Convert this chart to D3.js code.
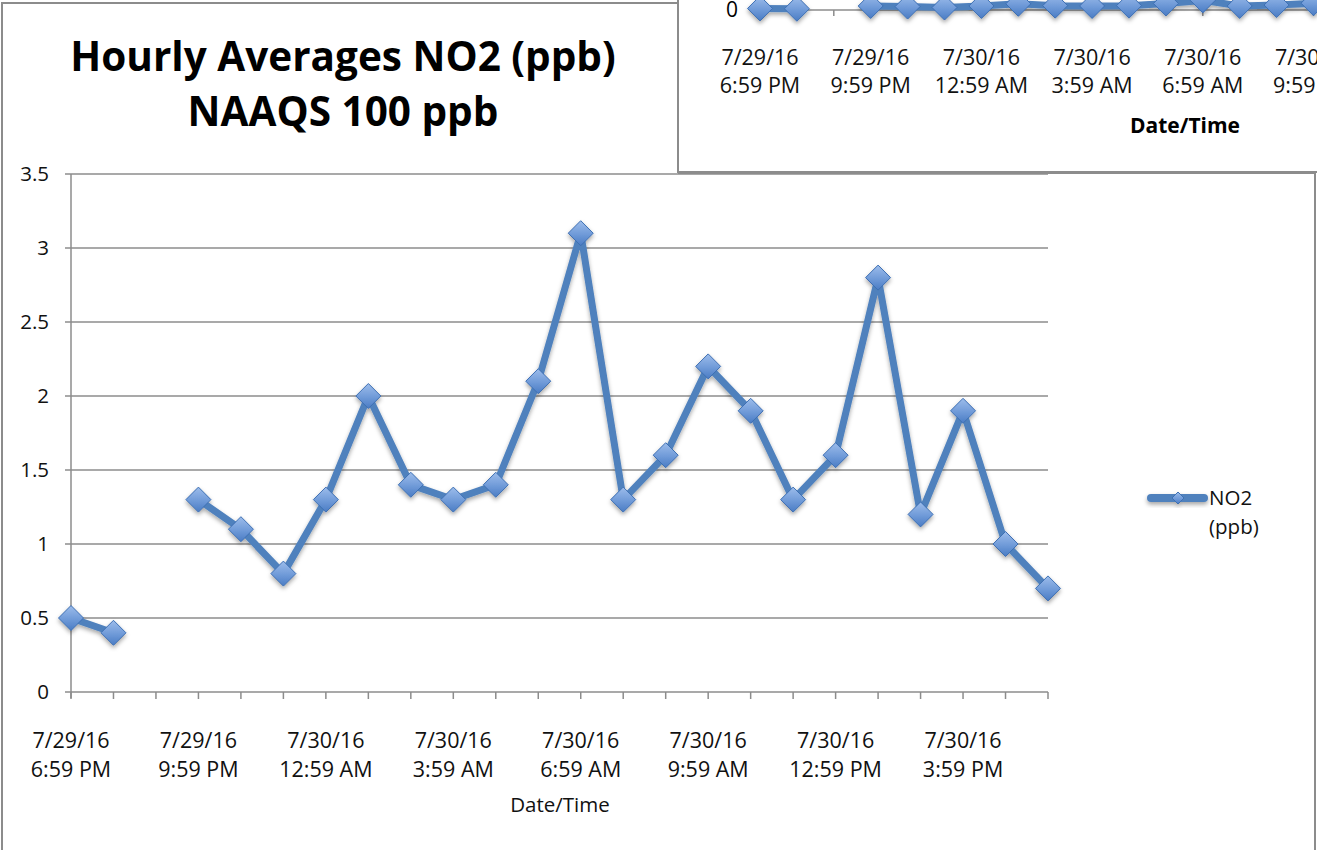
<!DOCTYPE html>
<html><head><meta charset="utf-8">
<script src="https://cdn.jsdelivr.net/npm/d3@7"></script>
<style>
body{margin:0;background:#fff;overflow:hidden;}
svg{display:block;font-family:"Open Sans",sans-serif;}
</style>
</head><body>
<svg id="c" width="1317" height="850"></svg>
<script>
// ---------- data ----------
const categories = [
  "7/29/16 6:59 PM","7/29/16 7:59 PM","7/29/16 8:59 PM","7/29/16 9:59 PM",
  "7/29/16 10:59 PM","7/29/16 11:59 PM","7/30/16 12:59 AM","7/30/16 1:59 AM",
  "7/30/16 2:59 AM","7/30/16 3:59 AM","7/30/16 4:59 AM","7/30/16 5:59 AM",
  "7/30/16 6:59 AM","7/30/16 7:59 AM","7/30/16 8:59 AM","7/30/16 9:59 AM",
  "7/30/16 10:59 AM","7/30/16 11:59 AM","7/30/16 12:59 PM","7/30/16 1:59 PM",
  "7/30/16 2:59 PM","7/30/16 3:59 PM","7/30/16 4:59 PM","7/30/16 5:59 PM"
];
const no2 = [0.5,0.4,null,1.3,1.1,0.8,1.3,2.0,1.4,1.3,1.4,2.1,3.1,1.3,1.6,2.2,1.9,1.3,1.6,2.8,1.2,1.9,1.0,0.7];
const yTicks = [0,0.5,1,1.5,2,2.5,3,3.5];
const topYTicks = [0];
const labelEvery = 3;
const titleLines = ["Hourly Averages NO2 (ppb)","NAAQS 100 ppb"];
const seriesName = ["NO2","(ppb)"];
const xTitle = "Date/Time";

// ---------- setup ----------
const svg = d3.select("#c");
const blue = "#4f81bd";
const grid = "#8c8c8c";
const defs = svg.append("defs");
const grad = defs.append("linearGradient").attr("id","mk").attr("x1",0).attr("y1",0).attr("x2",0).attr("y2",1);
grad.append("stop").attr("offset","0%").attr("stop-color","#9dbdeb");
grad.append("stop").attr("offset","55%").attr("stop-color","#6f9ad8");
grad.append("stop").attr("offset","100%").attr("stop-color","#4a7cc4");
const sh = defs.append("filter").attr("id","sh").attr("x","-30%").attr("y","-30%").attr("width","160%").attr("height","160%");
sh.append("feDropShadow").attr("dx",0).attr("dy",2.5).attr("stdDeviation",2).attr("flood-color","#000").attr("flood-opacity",0.35);

const splitLabel = s => { const i = s.indexOf(" "); return [s.slice(0,i), s.slice(i+1)]; };
const diamond = (g, x, y, r) => g.append("path")
  .attr("d", `M${x},${y-r}L${x+r},${y}L${x},${y+r}L${x-r},${y}Z`)
  .attr("fill","url(#mk)").attr("stroke","#3d6fb3").attr("stroke-width",1);

function drawSeries(g, x, y, r){
  const line = d3.line().defined(d=>d!=null).x((d,i)=>x(categories[i])).y(d=>y(d));
  const sg = g.append("g").attr("filter","url(#sh)");
  sg.append("path").datum(no2).attr("d",line).attr("fill","none")
    .attr("stroke",blue).attr("stroke-width",7).attr("stroke-linejoin","miter");
  no2.forEach((d,i)=>{ if(d!=null) diamond(sg, x(categories[i]), y(d), r); });
}

// ---------- top-right partial chart (behind) ----------
const topG = svg.append("g");
topG.append("rect").attr("x",678).attr("y",-5).attr("width",700).attr("height",177)
  .attr("fill","#fff").attr("stroke",grid).attr("stroke-width",2);
const xt = d3.scalePoint().domain(categories).range([760, 760+23*36.9]);
const yt = d3.scaleLinear().domain([0,100]).range([10,-300]);
topG.append("line").attr("x1",760).attr("x2",1317).attr("y1",yt(0)).attr("y2",yt(0)).attr("stroke",grid).attr("stroke-width",1.5);
topG.selectAll(".tt").data(categories).join("line")
  .attr("x1",d=>xt(d)).attr("x2",d=>xt(d)).attr("y1",yt(0)).attr("y2",yt(0)+6)
  .attr("stroke",grid).attr("stroke-width",1.5);
topG.selectAll(".tyl").data(topYTicks).join("text")
  .attr("x",738).attr("y",d=>yt(d)).attr("dy","0.35em").attr("text-anchor","end")
  .attr("font-size",21).text(d=>d);
drawSeries(topG, xt, yt, 12.5);
categories.forEach((c,i)=>{
  if(i%labelEvery) return;
  const [a,b] = splitLabel(c);
  const t = topG.append("text").attr("text-anchor","middle").attr("font-size",21.5).attr("fill","#111");
  t.append("tspan").attr("x",xt(c)).attr("y",65).text(a);
  t.append("tspan").attr("x",xt(c)).attr("y",93).text(b);
});
topG.append("text").attr("x",1185).attr("y",133).attr("text-anchor","middle")
  .attr("font-size",21).attr("font-weight","bold").text(xTitle);

// ---------- title box ----------
const tg = svg.append("g");
tg.append("rect").attr("x",2).attr("y",3).attr("width",676).attr("height",169)
  .attr("fill","#fff");
tg.append("path").attr("d","M2,172V3H678V172").attr("fill","none").attr("stroke",grid).attr("stroke-width",2);
titleLines.forEach((s,i)=>{
  tg.append("text").attr("x",343).attr("y",[71,126][i]).attr("text-anchor","middle")
    .attr("font-size",40.5).attr("font-weight","bold").attr("fill","#000").text(s);
});

// ---------- main chart ----------
const mainG = svg.append("g");
mainG.append("rect").attr("x",2).attr("y",173).attr("width",1313).attr("height",700)
  .attr("fill","#fff");
mainG.append("path").attr("d","M2,860V172M678,173H1315V860").attr("fill","none")
  .attr("stroke",grid).attr("stroke-width",2);
const x = d3.scalePoint().domain(categories).range([71,1048]);
const y = d3.scaleLinear().domain([0,3.5]).range([692,174]);

// gridlines
mainG.selectAll(".gl").data(yTicks).join("line")
  .attr("x1",65).attr("x2",1048).attr("y1",d=>y(d)).attr("y2",d=>y(d))
  .attr("stroke",grid).attr("stroke-width",1.5);
// y axis
mainG.append("line").attr("x1",71).attr("x2",71).attr("y1",y(3.5)).attr("y2",y(0)+6)
  .attr("stroke",grid).attr("stroke-width",1.5);
// x ticks
mainG.selectAll(".xt").data(categories).join("line")
  .attr("x1",d=>x(d)).attr("x2",d=>x(d)).attr("y1",y(0)).attr("y2",y(0)+7)
  .attr("stroke",grid).attr("stroke-width",1.5);
// y labels
mainG.selectAll(".yl").data(yTicks).join("text")
  .attr("x",49).attr("y",d=>y(d)).attr("dy","0.35em").attr("text-anchor","end")
  .attr("font-size",20.5).attr("fill","#111").text(d=>d);
// x labels
categories.forEach((c,i)=>{
  if(i%labelEvery) return;
  const [a,b] = splitLabel(c);
  const t = mainG.append("text").attr("text-anchor","middle").attr("font-size",21.5).attr("fill","#111");
  t.append("tspan").attr("x",x(c)).attr("y",748).text(a);
  t.append("tspan").attr("x",x(c)).attr("y",777).text(b);
});
mainG.append("text").attr("x",560).attr("y",812).attr("text-anchor","middle")
  .attr("font-size",20.5).attr("fill","#111").text(xTitle);

drawSeries(mainG, x, y, 12.5);

// legend
const lg = mainG.append("g").attr("filter","url(#sh)");
lg.append("line").attr("x1",1151).attr("x2",1204).attr("y1",498).attr("y2",498)
  .attr("stroke",blue).attr("stroke-width",8).attr("stroke-linecap","round");
diamond(lg, 1178, 498, 6);
mainG.append("text").attr("x",1209).attr("y",498).attr("dy","0.35em").attr("font-size",20.5).attr("fill","#111").text(seriesName[0]);
mainG.append("text").attr("x",1209).attr("y",527).attr("dy","0.35em").attr("font-size",20.5).attr("fill","#111").text(seriesName[1]);
</script>
</body></html>
